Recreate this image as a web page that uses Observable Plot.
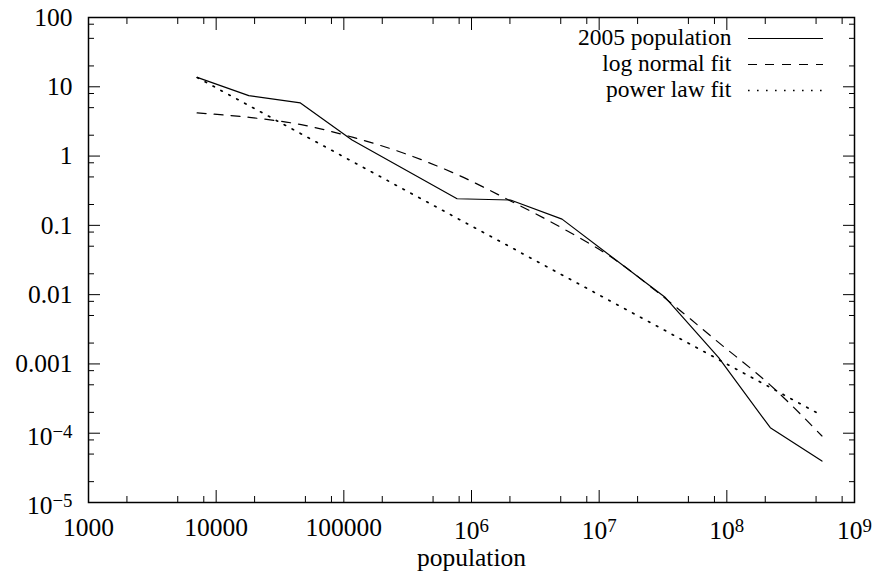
<!DOCTYPE html>
<html><head><meta charset="utf-8">
<script src="https://cdn.jsdelivr.net/npm/d3@7"></script>
<script src="https://cdn.jsdelivr.net/npm/@observablehq/plot@0.6"></script>
<style>
html,body{margin:0;padding:0;background:#fff;}
#chart{width:872px;height:577px;position:relative;}
</style></head><body><div id="chart"></div>
<script>
// ---- data ----
const seriesNames = ["2005 population", "log normal fit", "power law fit"];
const obsPopulation = [7100, 18000, 45700, 116000, 771000, 2020000, 5120000, 33000000, 86300000, 219000000, 556000000];
const obsFraction   = [13.7, 7.46, 5.85, 1.71, 0.242, 0.232, 0.123, 0.00908, 0.00123, 1.2e-4, 3.96e-5];
const fitPopulation = [7096, 18150, 46360, 118500, 303200, 776000, 1986000, 5080000, 13000000, 33300000, 85100000, 218000000, 556000000];
const logNormalFit  = [4.20, 3.62, 2.84, 1.86, 1.08, 0.539, 0.229, 0.0923, 0.0329, 0.00869, 0.00208, 4.98e-4, 9.12e-5];
const powerLawFit   = [13.6, 5.33, 2.09, 0.822, 0.321, 0.126, 0.0494, 0.0194, 0.00762, 0.00299, 0.00117, 4.59e-4, 1.80e-4];
const xMajorTicks = [1e3, 1e4, 1e5, 1e6, 1e7, 1e8, 1e9];
const xTickLabels = ["1000", "10000", "100000", "10^6", "10^7", "10^8", "10^9"];
const yMajorTicks = [1e-5, 1e-4, 1e-3, 1e-2, 1e-1, 1, 10, 100];
const yTickLabels = ["10^\u22125", "10^\u22124", "0.001", "0.01", "0.1", "1", "10", "100"];
const minorMultipliers = [2, 5, 8];
const xAxisLabel = "population";

// ---- derived tables ----
const observed = obsPopulation.map((p, i) => ({population: p, value: obsFraction[i]}));
const logNormal = fitPopulation.map((p, i) => ({population: p, value: logNormalFit[i]}));
const powerLaw = fitPopulation.map((p, i) => ({population: p, value: powerLawFit[i]}));
const xMinor = xMajorTicks.slice(0, -1).flatMap(d => minorMultipliers.map(m => d * m));
const yMinor = yMajorTicks.slice(0, -1).flatMap(d => minorMultipliers.map(m => d * m));
const xLabelOf = new Map(xMajorTicks.map((d, i) => [d, xTickLabels[i]]));
const yLabelOf = new Map(yMajorTicks.map((d, i) => [d, yTickLabels[i]]));

const font = "'Liberation Serif', 'Times New Roman', serif";
const fs = 25.5;
const W = 872, H = 577, mL = 88, mR = 18, mT = 17, mB = 75;
const dashStyle = "9 8", dotStyle = "1.6 7.4";

const tickOnly = (data, anchor, size) => (anchor === "bottom" || anchor === "top")
  ? Plot.axisX(data, {anchor, tickSize: size, fill: "none", label: null})
  : Plot.axisY(data, {anchor, tickSize: size, fill: "none", label: null});

const chart = Plot.plot({
  width: W, height: H,
  marginLeft: mL, marginRight: mR, marginTop: mT, marginBottom: mB,
  style: {fontFamily: font, fontSize: fs + "px", background: "white", color: "black"},
  x: {type: "log", domain: [1e3, 1e9], label: null},
  y: {type: "log", domain: [1e-5, 100], label: null},
  marks: [
    tickOnly(xMajorTicks, "bottom", -12),
    tickOnly(xMinor, "bottom", -6),
    tickOnly(xMajorTicks, "top", -12),
    tickOnly(xMinor, "top", -6),
    tickOnly(yMajorTicks, "left", -12),
    tickOnly(yMinor, "left", -6),
    tickOnly(yMajorTicks, "right", -12),
    tickOnly(yMinor, "right", -6),
    Plot.axisX(xMajorTicks, {anchor: "bottom", tickSize: 0, tickPadding: 15, fontSize: fs, label: null, tickFormat: d => xLabelOf.get(d)}),
    Plot.axisY(yMajorTicks, {anchor: "left", tickSize: 0, tickPadding: 16, fontSize: fs, label: null, tickFormat: d => yLabelOf.get(d)}),
    Plot.text([xAxisLabel], {frameAnchor: "bottom", dy: 45, lineAnchor: "top", text: d => d, fontSize: fs}),
    Plot.line(observed, {x: "population", y: "value", stroke: "black", strokeWidth: 1.2}),
    Plot.line(logNormal, {x: "population", y: "value", stroke: "black", strokeWidth: 1.2, strokeDasharray: dashStyle, curve: "monotone-x"}),
    Plot.line(powerLaw, {x: "population", y: "value", stroke: "black", strokeWidth: 1.7, strokeDasharray: dotStyle}),
    Plot.frame({stroke: "black", strokeWidth: 1.5})
  ]
});
document.getElementById("chart").appendChild(chart);

// superscript exponents in tick labels (gnuplot style)
const svg = d3.select(chart);
svg.selectAll("text").each(function() {
  const t = this.textContent;
  if (!t.includes("^")) return;
  const [base, exp] = t.split("^");
  const el = d3.select(this);
  el.text(null);
  el.append("tspan").attr("dy", "0.14em").text(base);
  el.append("tspan").attr("dy", "-0.36em").attr("font-size", "0.74em").text(exp);
});

// legend (inside the frame, top right)
const styles = [null, dashStyle, dotStyle];
const widths = [1.2, 1.2, 1.7];
const legendFs = 23.5, rowStep = 26;
const lineEnd = W - mR - 31, lineStart = lineEnd - 75, textEnd = lineStart - 16.6;
const leg = svg.append("g").attr("font-family", font).attr("font-size", legendFs);
seriesNames.forEach((name, i) => {
  const y = mT + 47.5 + (i - 1) * rowStep;
  leg.append("text").attr("x", textEnd).attr("y", y + 6).attr("text-anchor", "end").attr("fill", "black").text(name);
  const ln = leg.append("line").attr("x1", lineStart).attr("x2", lineEnd).attr("y1", y).attr("y2", y)
    .attr("stroke", "black").attr("stroke-width", widths[i]);
  if (styles[i]) ln.attr("stroke-dasharray", styles[i]);
});
</script></body></html>
